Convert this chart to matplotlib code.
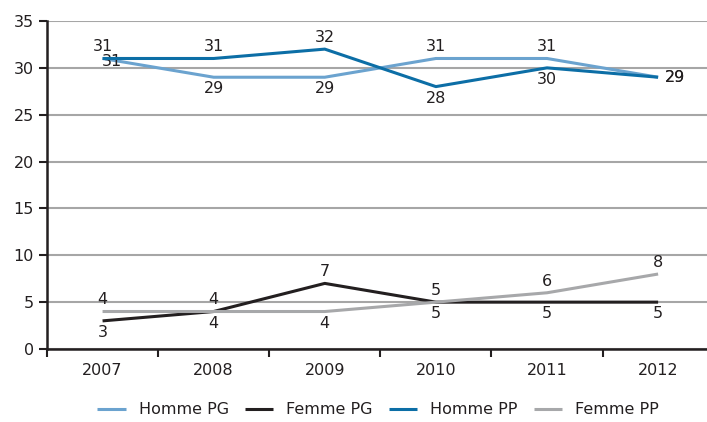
import matplotlib.pyplot as plt

years = ["2007", "2008", "2009", "2010", "2011", "2012"]
homme_pg = [31, 29, 29, 31, 31, 29]
femme_pg = [3, 4, 7, 5, 5, 5]
homme_pp = [31, 31, 32, 28, 30, 29]
femme_pp = [4, 4, 4, 5, 6, 8]

# label placement per point: "a" above, "b" below, "r" right, "s" shifted
pos_homme_pg = ["s", "b", "b", "a", "a", "r"]
pos_femme_pg = ["b", "b", "a", "b", "b", "b"]
pos_homme_pp = ["a", "a", "a", "b", "b", "r"]
pos_femme_pp = ["a", "a", "b", "a", "a", "a"]

C_HPG = "#6BA3CF"
C_FPG = "#231F20"
C_HPP = "#0C6EA6"
C_FPP = "#A7A8AA"
GRID = "#A6A6A6"
INK = "#231F20"

plt.rcParams["font.family"] = ["DejaVu Sans"]

fig = plt.figure(figsize=(7.07, 4.22), dpi=100)
ax = fig.add_axes([47 / 707, 1 - 349 / 422, 660 / 707, 328 / 422])

x = list(range(len(years)))
series = [
    (homme_pg, C_HPG, "Homme PG", pos_homme_pg),
    (femme_pg, C_FPG, "Femme PG", pos_femme_pg),
    (homme_pp, C_HPP, "Homme PP", pos_homme_pp),
    (femme_pp, C_FPP, "Femme PP", pos_femme_pp),
]
for vals, col, lab, pos in series:
    ax.plot(x, vals, color=col, linewidth=2.2, label=lab, zorder=3,
            solid_capstyle="butt")
    for xi, v, p in zip(x, vals, pos):
        kw = dict(textcoords="offset points", fontsize=11.5, color=INK)
        if p == "a":
            ax.annotate(str(v), (xi, v), xytext=(0, 3), ha="center", va="bottom", **kw)
        elif p == "b":
            ax.annotate(str(v), (xi, v), xytext=(0, -3), ha="center", va="top", **kw)
        elif p == "s":
            ax.annotate(str(v), (xi, v), xytext=(7, -2), ha="center", va="center", **kw)
        else:
            ax.annotate(str(v), (xi, v), xytext=(5, 0), ha="left", va="center", **kw)

ax.set_xlim(-0.5, 5.44)
ax.set_ylim(0, 35)
ax.set_yticks(range(0, 36, 5))
ax.set_xticks(x)
ax.set_xticklabels(years)
ax.set_xticks([i + 0.5 for i in range(-1, 5)], minor=True)
ax.tick_params(axis="x", which="major", length=0, pad=10, labelsize=11.5,
               labelcolor=INK)
ax.tick_params(axis="x", which="minor", length=6, width=1.5, direction="out",
               color=INK)
ax.tick_params(axis="y", length=6, width=1.5, direction="out", labelsize=11.5,
               color=INK, labelcolor=INK)
ax.grid(axis="y", color=GRID, linewidth=1.5)
ax.set_axisbelow(True)
for s in ("top", "right"):
    ax.spines[s].set_visible(False)
for s in ("left", "bottom"):
    ax.spines[s].set_color(INK)
    ax.spines[s].set_linewidth(1.8)
ax.spines["bottom"].set_zorder(4)

fig.legend(*ax.get_legend_handles_labels(), loc="center",
           bbox_to_anchor=(378 / 707, 1 - 410 / 422), ncol=4,
           frameon=False, fontsize=11.5, handlelength=1.8, columnspacing=1.0,
           handletextpad=0.8, labelcolor=INK)

fig.savefig("out.png", dpi=100, facecolor="white")
